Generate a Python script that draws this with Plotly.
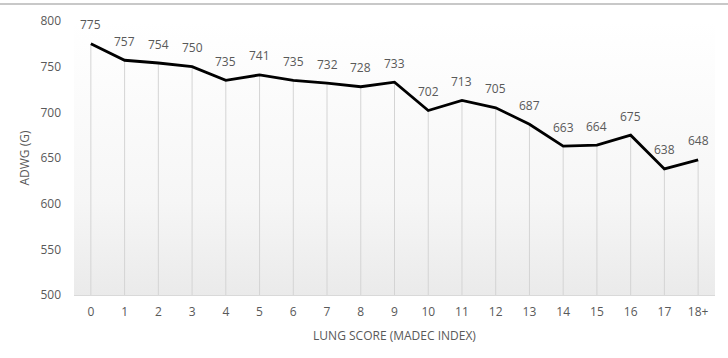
import plotly.graph_objects as go

categories = ["0", "1", "2", "3", "4", "5", "6", "7", "8", "9", "10", "11", "12", "13", "14", "15", "16", "17", "18+"]
adwg = [775, 757, 754, 750, 735, 741, 735, 732, 728, 733, 702, 713, 705, 687, 663, 664, 675, 638, 648]
y_ticks = [500, 550, 600, 650, 700, 750, 800]

xs = list(range(len(categories)))
y_min, y_max = 500, 800
x_min, x_max = -0.5, len(categories) - 0.5

fig = go.Figure()

# gradient background of plot area
fig.add_trace(go.Scatter(
    x=[x_min, x_max, x_max, x_min, x_min],
    y=[y_min, y_min, y_max, y_max, y_min],
    mode="lines", line=dict(width=0), fill="toself",
    fillgradient=dict(type="vertical", start=y_min, stop=y_max,
                      colorscale=[[0, "#eaeaea"], [0.35, "#f6f6f6"], [1, "#ffffff"]]),
    hoverinfo="skip", showlegend=False,
))

# drop lines
fig.add_trace(go.Scatter(
    x=xs, y=adwg, mode="markers", marker=dict(size=0.1, color="rgba(0,0,0,0)"),
    error_y=dict(type="data", symmetric=False, array=[0] * len(adwg),
                 arrayminus=[v - y_min for v in adwg], color="#d4d4d4", thickness=1, width=0),
    hoverinfo="skip", showlegend=False,
))

# main line
fig.add_trace(go.Scatter(
    x=xs, y=adwg, mode="lines", line=dict(color="#000000", width=2.8),
    showlegend=False,
))

for x, v in zip(xs, adwg):
    fig.add_annotation(x=x, y=v, text=str(v), showarrow=False, yshift=19,
                       font=dict(family="Open Sans", size=12, color="#595959"))

fig.add_shape(type="line", xref="paper", yref="paper", x0=-0.2, x1=1.1, y0=1.0625, y1=1.0625,
              line=dict(color="#c8c8c8", width=2))

fig.update_layout(
    width=728, height=358,
    margin=dict(l=74, r=13, t=18, b=63),
    paper_bgcolor="white", plot_bgcolor="white",
    font=dict(family="Open Sans", size=12, color="#595959"),
    xaxis=dict(range=[x_min, x_max], tickvals=xs, ticktext=categories, showgrid=False,
               zeroline=False, showline=True, linecolor="#d9d9d9", linewidth=1,
               ticks="", ticklabelstandoff=6,
               title=dict(text="LUNG SCORE (MADEC INDEX)", standoff=12,
                          font=dict(size=12, color="#595959"))),
    yaxis=dict(range=[y_min, y_max], tickvals=y_ticks, showgrid=False, zeroline=False,
               showline=False, ticks="", ticklabelstandoff=12,
               title=dict(text="ADWG (G)", standoff=8, font=dict(size=12, color="#595959"))),
)

fig.write_html("out.html")
